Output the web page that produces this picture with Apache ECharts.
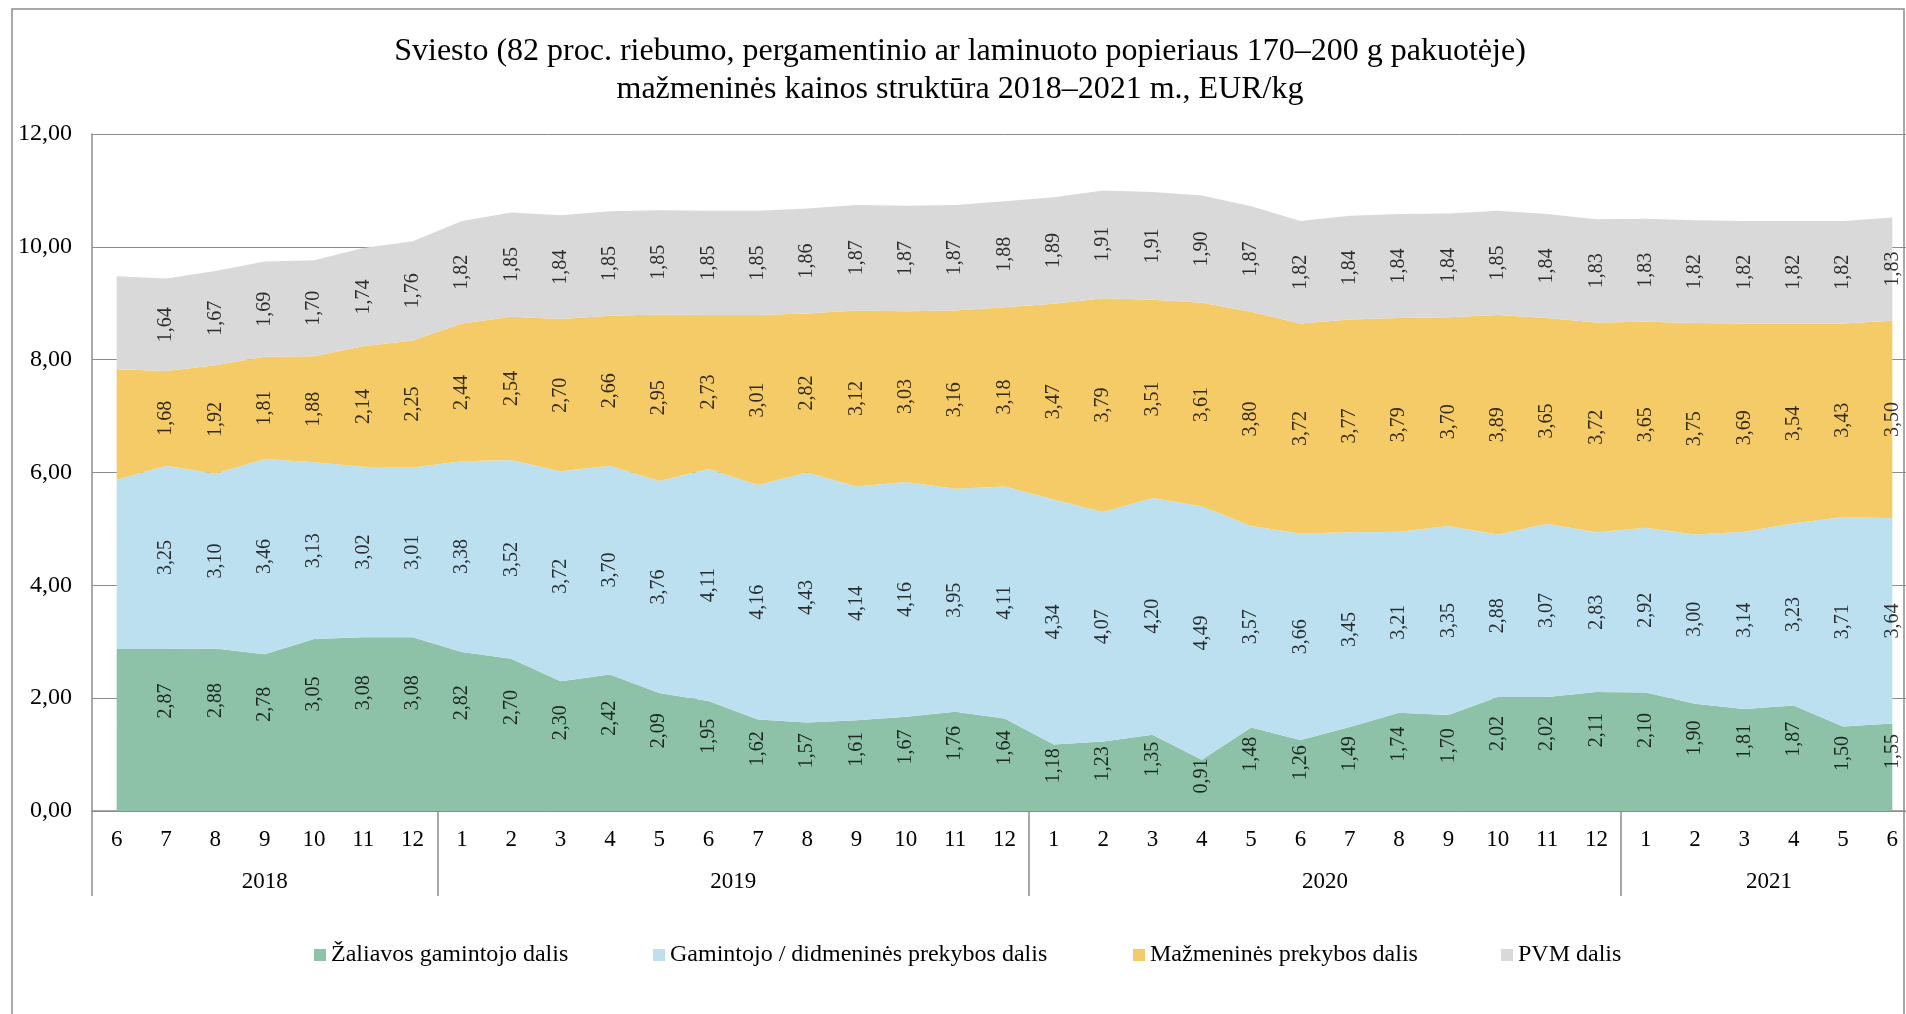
<!DOCTYPE html>
<html>
<head>
<meta charset="utf-8">
<script src="https://cdn.jsdelivr.net/npm/echarts@6/dist/echarts.min.js"></script>
<style>
  html, body { margin: 0; padding: 0; background: #fff; overflow: hidden; }
  #main { width: 1920px; height: 1014px; }
</style>
</head>
<body>
<div id="main"></div>
<script>
// mėnesiai 2018-06 ... 2021-06
var months = ['6', '7', '8', '9', '10', '11', '12',
  '1', '2', '3', '4', '5', '6', '7', '8', '9', '10', '11', '12',
  '1', '2', '3', '4', '5', '6', '7', '8', '9', '10', '11', '12',
  '1', '2', '3', '4', '5', '6'];
var years = ['2018', '2019', '2020', '2021'];
var yearSpans = [7, 12, 12, 6];
var yTicks = [0, 2, 4, 6, 8, 10, 12];

var names = ['Žaliavos gamintojo dalis', 'Gamintojo / didmeninės prekybos dalis',
  'Mažmeninės prekybos dalis', 'PVM dalis'];

var zaliava = [2.87, 2.87, 2.88, 2.78, 3.05, 3.08, 3.08, 2.82, 2.70, 2.30, 2.42, 2.09, 1.95,
  1.62, 1.57, 1.61, 1.67, 1.76, 1.64, 1.18, 1.23, 1.35, 0.91, 1.48, 1.26, 1.49, 1.74,
  1.70, 2.02, 2.02, 2.11, 2.10, 1.90, 1.81, 1.87, 1.50, 1.55];
var gamintojas = [3.00, 3.25, 3.10, 3.46, 3.13, 3.02, 3.01, 3.38, 3.52, 3.72, 3.70, 3.76, 4.11,
  4.16, 4.43, 4.14, 4.16, 3.95, 4.11, 4.34, 4.07, 4.20, 4.49, 3.57, 3.66, 3.45, 3.21,
  3.35, 2.88, 3.07, 2.83, 2.92, 3.00, 3.14, 3.23, 3.71, 3.64];
var mazmenine = [1.96, 1.68, 1.92, 1.81, 1.88, 2.14, 2.25, 2.44, 2.54, 2.70, 2.66, 2.95, 2.73,
  3.01, 2.82, 3.12, 3.03, 3.16, 3.18, 3.47, 3.79, 3.51, 3.61, 3.80, 3.72, 3.77, 3.79,
  3.70, 3.89, 3.65, 3.72, 3.65, 3.75, 3.69, 3.54, 3.43, 3.50];
var pvm = [1.65, 1.64, 1.67, 1.69, 1.70, 1.74, 1.76, 1.82, 1.85, 1.84, 1.85, 1.85, 1.85,
  1.85, 1.86, 1.87, 1.87, 1.87, 1.88, 1.89, 1.91, 1.91, 1.90, 1.87, 1.82, 1.84, 1.84,
  1.84, 1.85, 1.84, 1.83, 1.83, 1.82, 1.82, 1.82, 1.82, 1.83];

var colors = ['#8ec2a8', '#bde0f0', '#f4cb67', '#d9d9d9'];
var font = 'Liberation Serif, Times New Roman, serif';
var grey = '#8c8c8c';

var layers = [zaliava, gamintojas, mazmenine, pvm];
// etiketės vieta juostoje (apatinės juostos etiketės aukščiau)
var labelPos = [0.68, 0.5, 0.5, 0.5];

function fmt(v) { return v.toFixed(2).replace('.', ','); }

// metų ribos ir vidurio taškai
var bounds = [0];
var centers = [];
yearSpans.forEach(function (s, k) {
  centers.push(bounds[k] + s / 2);
  bounds.push(bounds[k] + s);
});

var series = [];
layers.forEach(function (arr, k) {
  series.push({
    name: names[k],
    type: 'line',
    stack: 'viso',
    symbol: 'none',
    lineStyle: { width: 0 },
    areaStyle: { color: colors[k], opacity: 1 },
    itemStyle: { color: colors[k] },
    data: arr
  });
});

// reikšmių etiketės (pirmas mėnuo be etikečių)
layers.forEach(function (arr, k) {
  var pts = [];
  for (var i = 1; i < arr.length; i++) {
    var base = 0;
    for (var j = 0; j < k; j++) base += layers[j][i];
    pts.push([i, base + arr[i] * labelPos[k], arr[i]]);
  }
  series.push({
    type: 'scatter',
    symbolSize: 0,
    silent: true,
    z: 5,
    data: pts,
    label: {
      show: true,
      position: 'inside',
      rotate: 90,
      color: '#000',
      fontFamily: font,
      fontSize: 20,
      formatter: function (p) { return fmt(p.value[2]); }
    }
  });
});

var legendLeft = [314, 653, 1133, 1501];

var chart = echarts.init(document.getElementById('main'));
chart.setOption({
  animation: false,
  backgroundColor: '#fff',
  title: {
    text: 'Sviesto (82 proc. riebumo, pergamentinio ar laminuoto popieriaus 170–200 g pakuotėje)\nmažmeninės kainos struktūra 2018–2021 m., EUR/kg',
    left: 960,
    textAlign: 'center',
    top: 33,
    padding: 0,
    textStyle: { fontFamily: font, fontSize: 32, fontWeight: 'normal', color: '#000', lineHeight: 38 }
  },
  legend: names.map(function (n, k) {
    return {
      data: [n],
      left: legendLeft[k],
      top: 943,
      padding: 0,
      icon: 'rect',
      itemWidth: 12,
      itemHeight: 12,
      selectedMode: false,
      textStyle: { fontFamily: font, fontSize: 24, color: '#000' }
    };
  }),
  graphic: [{
    type: 'rect',
    shape: { x: 12, y: 9, width: 1892, height: 1100 },
    style: { fill: 'none', stroke: grey, lineWidth: 1.5 },
    silent: true
  }],
  grid: { left: 92, top: 134, right: 3, bottom: 203 },
  xAxis: [{
    type: 'category',
    data: months,
    boundaryGap: true,
    axisLine: { lineStyle: { color: grey, width: 1.5 } },
    axisTick: { show: false },
    axisLabel: { interval: 0, margin: 17, color: '#000', fontFamily: font, fontSize: 23 }
  }, {
    type: 'value',
    position: 'bottom',
    min: 0,
    max: months.length,
    axisLine: { show: false },
    splitLine: { show: false },
    axisTick: {
      show: true,
      customValues: bounds,
      length: 85,
      lineStyle: { color: grey, width: 1.5 }
    },
    axisLabel: {
      customValues: centers,
      margin: 59,
      color: '#000',
      fontFamily: font,
      fontSize: 23,
      formatter: function (v) {
        var k = centers.indexOf(v);
        return k >= 0 ? years[k] : '';
      }
    }
  }],
  yAxis: {
    type: 'value',
    min: yTicks[0],
    max: yTicks[yTicks.length - 1],
    interval: 2,
    axisLine: { show: true, lineStyle: { color: grey, width: 1.5 } },
    axisTick: { show: false },
    splitLine: { show: true, lineStyle: { color: grey, width: 1 } },
    axisLabel: { margin: 20, color: '#000', fontFamily: font, fontSize: 24, formatter: fmt }
  },
  series: series
});
</script>
</body>
</html>
